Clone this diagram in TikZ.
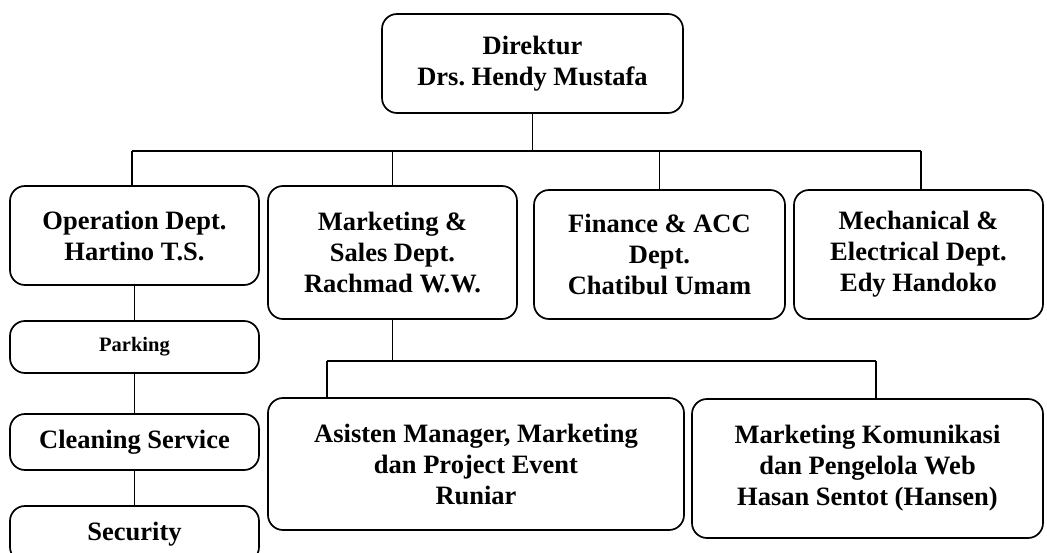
\documentclass[tikz,border=0pt]{standalone}
\usepackage{fontspec}
\setmainfont{Liberation Serif}
\frenchspacing
\begin{document}
\begin{tikzpicture}[x=1pt,y=-1pt,
  unit/.style={draw, line width=1.7pt, rounded corners=15pt, align=center,
    inner sep=0pt, font=\fontsize{26.5}{31}\selectfont\bfseries},
  link/.style={line width=1.5pt}]
\useasboundingbox (0,0) rectangle (1047,553);
\clip (0,0) rectangle (1047,553);

% top management
\node[unit, minimum width=301pt, minimum height=99pt] (dir) at (532.5,63.5)
  {Direktur\\Drs. Hendy Mustafa};

% departments
\node[unit, minimum width=249pt, minimum height=99pt] (op) at (134.5,235.5)
  {Operation Dept.\\Hartino T.S.};
\node[unit, minimum width=249pt, minimum height=133pt] (mkt) at (392.5,252.5)
  {Marketing \&\\Sales Dept.\\Rachmad W.W.};
\node[unit, minimum width=251pt, minimum height=129pt] (fin) at (659.5,254.5)
  {Finance \& ACC\\Dept.\\Chatibul Umam};
\node[unit, minimum width=249pt, minimum height=129pt] (mech) at (918.5,254.5)
  {Mechanical \&\\Electrical Dept.\\Edy Handoko};

% operation sections
\node[unit, minimum width=249pt, minimum height=52pt,
  font=\fontsize{20.5}{24}\selectfont\bfseries] (park) at (134.5,347) {Parking};
\node[unit, minimum width=249pt, minimum height=56pt] (clean) at (134.5,442)
  {Cleaning Service};
\node[unit, minimum width=249pt, minimum height=56pt] (sec) at (134.5,534)
  {Security};

% marketing staff
\node[unit, minimum width=416pt, minimum height=132pt] (asis) at (476,464)
  {Asisten Manager, Marketing\\dan Project Event\\Runiar};
\node[unit, minimum width=351pt, minimum height=139pt] (kom) at (867.5,468.5)
  {Marketing Komunikasi\\dan Pengelola Web\\Hasan Sentot (Hansen)};

% director to departments
\coordinate (busL) at (132,151);
\coordinate (busR) at (921,151);
\draw[link] (busL) -- (busR);
\draw[link] (dir.south) -- (dir.south |- busL);
\draw[link] (busL) -- (busL |- op.north);
\draw[link] (mkt.north |- busL) -- (mkt.north);
\draw[link] (fin.north |- busL) -- (fin.north);
\draw[link] (busR) -- (busR |- mech.north);

% operation chain
\draw[link] (op.south) -- (park.north);
\draw[link] (park.south) -- (clean.north);
\draw[link] (clean.south) -- (sec.north);

% marketing to staff
\coordinate (subL) at (327,361);
\coordinate (subR) at (876,361);
\draw[link] (mkt.south) -- (mkt.south |- subL);
\draw[link] (subL) -- (subR);
\draw[link] (subL) -- (subL |- asis.north);
\draw[link] (subR) -- (subR |- kom.north);
\end{tikzpicture}
\end{document}
